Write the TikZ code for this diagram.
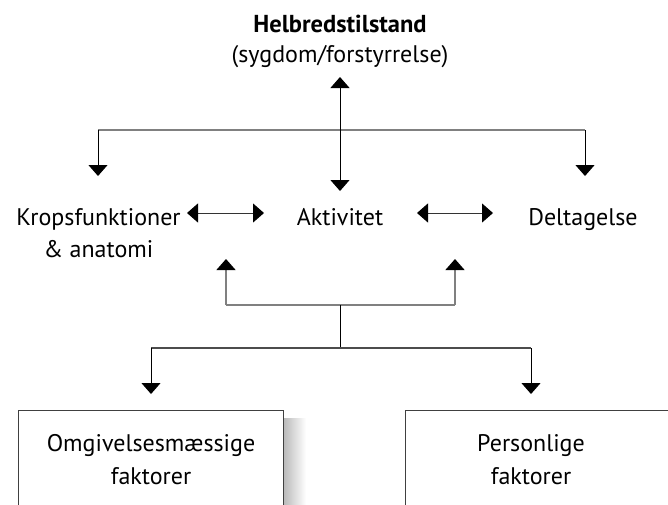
\documentclass[tikz,border=0pt]{standalone}
\usepackage{fontspec}
\setmainfont{PT Sans}
\usetikzlibrary{arrows.meta}
\begin{document}
\begin{tikzpicture}[x=1pt,y=-1pt,
  lbl/.style={font=\fontsize{24}{28}\selectfont, inner sep=0pt, anchor=base},
  blk/.style={line width=1pt, black},
  gry/.style={line width=1.4pt, black!50},
  tip/.style={-{Triangle[width=19pt,length=11pt,color=black]}},
  dtip/.style={{Triangle[width=19pt,length=11pt,color=black]}-{Triangle[width=19pt,length=11pt,color=black]}},
  box/.style={draw=black!75, line width=0.9pt, fill=white}]
\useasboundingbox (0,0) rectangle (668,504);
\clip (0,0) rectangle (668,504);

% texts
\node[lbl, font=\fontsize{24.5}{28}\selectfont\bfseries] (title) at (340,32) {Helbredstilstand};
\node[lbl] (sub) at (340,62) {(sygdom/forstyrrelse)};
\node[lbl] (krop) at (98.5,225) {Kropsfunktioner};
\node[lbl] (anat) at (98.5,257) {\& anatomi};
\node[lbl] (akt) at (340,225) {Aktivitet};
\node[lbl] (del) at (583,225) {Deltagelse};

% boxes
\shade[left color=black!28, right color=white] (283,418) rectangle (306,520);
\draw[box] (18,410) rectangle (283,520);
\draw[box] (405,410) rectangle (680,520);
\node[lbl] (omg) at (151,451) {Omgivelsesmæssige};
\node[lbl] (omgf) at (151,484) {faktorer};
\node[lbl] (pers) at (531,451) {Personlige};
\node[lbl] (persf) at (531,484) {faktorer};

% coordinates
\coordinate (vt) at (340,77);
\coordinate (vb) at (340,191);
\coordinate (hl) at (98,130);
\coordinate (hr) at (585,130);
\coordinate (al) at (98,176);
\coordinate (ar) at (585,176);
\coordinate (d1a) at (187,213);
\coordinate (d1b) at (264,213);
\coordinate (d2a) at (417,213);
\coordinate (d2b) at (493,213);
\coordinate (ul) at (226,259);
\coordinate (ur) at (455,259);
\coordinate (ulb) at (226,305);
\coordinate (urb) at (455,305);
\coordinate (mc) at (340,305);
\coordinate (mb) at (340,348);
\coordinate (bl) at (151,348);
\coordinate (br) at (531,348);
\coordinate (bla) at (151,394);
\coordinate (bra) at (531,394);

% upper connectors
\draw[gry] (hl) -- (hr);
\draw[blk,dtip] (vt) -- (vb);
\draw[blk,tip] (hl) -- (al);
\draw[blk,tip] (hr) -- (ar);
\draw[line width=1pt, black!80, dtip] (d1a) -- (d1b);
\draw[line width=1pt, black!80, dtip] (d2a) -- (d2b);

% lower connectors
\draw[gry] (ulb) -- (urb);
\draw[gry,tip] (ulb) -- (ul);
\draw[gry,tip] (urb) -- (ur);
\draw[blk] (mc) -- (mb);
\draw[line width=1.2pt, black!70] (bl) -- (br);
\draw[blk,tip] (bl) -- (bla);
\draw[blk,tip] (br) -- (bra);
\end{tikzpicture}
\end{document}
